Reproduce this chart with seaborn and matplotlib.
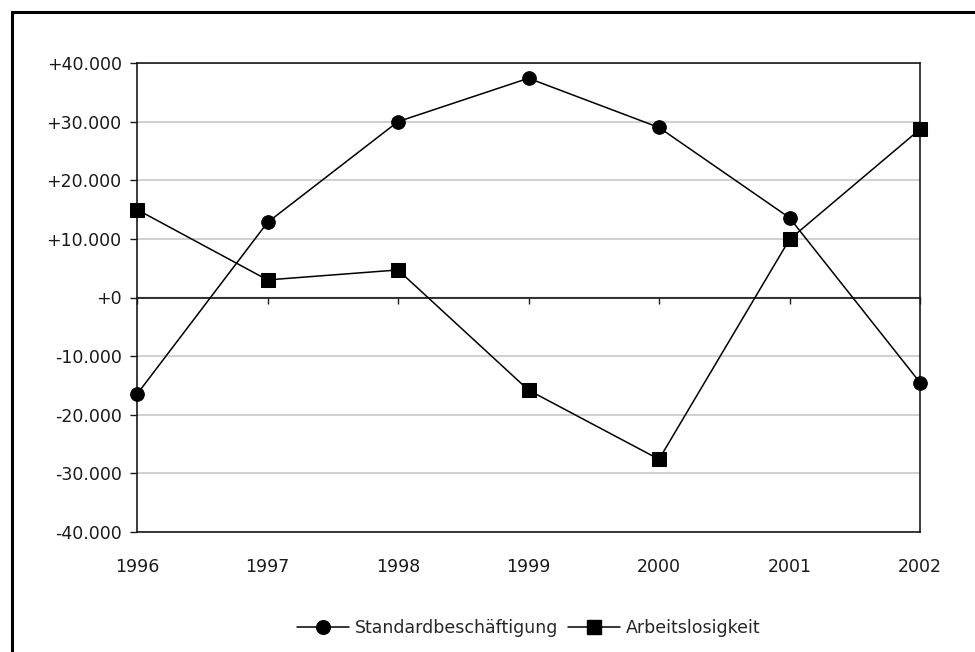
import seaborn as sns
import matplotlib.pyplot as plt
import pandas as pd
from matplotlib.ticker import FuncFormatter
from matplotlib.lines import Line2D
from matplotlib.patches import Rectangle

# Data
years = [1996, 1997, 1998, 1999, 2000, 2001, 2002]
standard = [-16500, 12800, 30000, 37400, 29000, 13600, -14500]
arbeitslos = [15000, 3000, 4700, -15800, -27600, 9900, 28700]
series_names = ["Standardbeschäftigung", "Arbeitslosigkeit"]

df = pd.concat([
    pd.DataFrame({"Jahr": years, "Wert": standard, "Reihe": series_names[0]}),
    pd.DataFrame({"Jahr": years, "Wert": arbeitslos, "Reihe": series_names[1]}),
])

sns.set_style("white")
plt.rcParams["font.family"] = ["DejaVu Sans"]
plt.rcParams["font.size"] = 12.5

fig = plt.figure(figsize=(9.75, 6.52), dpi=100)
ax = fig.add_axes([137 / 975, 1 - 532 / 652, (920 - 137) / 975, (532 - 63) / 652])

# Gridlines
ax.set_ylim(-40000, 40000)
ax.set_xlim(years[0], years[-1])
ax.set_yticks(range(-40000, 40001, 10000))
ax.yaxis.grid(True, color="#c4c4c4", lw=1.1)
ax.set_axisbelow(True)

sns.lineplot(
    data=df, x="Jahr", y="Wert", style="Reihe", markers=["o", "s"],
    dashes=False, color="black", markersize=9.8, linewidth=1.1,
    markeredgecolor="black", errorbar=None, legend=False, ax=ax,
)
for ln in ax.lines:
    ln.set_clip_on(False)
    ln.set_zorder(5)

# Zero line
ax.axhline(0, color="#1a1a1a", lw=1.2, zorder=2)

# Frame of plot area
for side in ["left", "right", "top", "bottom"]:
    ax.spines[side].set_visible(True)
    ax.spines[side].set_color("#1a1a1a")
    ax.spines[side].set_linewidth(1.2)

ax.yaxis.set_major_formatter(
    FuncFormatter(lambda v, _: f"{v:+,.0f}".replace(",", "."))
)
ax.tick_params(axis="y", left=True, direction="out", length=5, width=1,
               pad=6, labelsize=12.5, colors="#1a1a1a")
ax.set_xticks(years)
ax.set_xticklabels([str(y) for y in years])
ax.tick_params(axis="x", bottom=True, length=0, pad=19, labelsize=12.5,
               colors="#1a1a1a")
ax.set_xlabel("")
ax.set_ylabel("")

# Category tick marks hanging below the zero line
zero_ax = ax.secondary_xaxis(0.5)
zero_ax.set_xticks(years)
zero_ax.set_xticklabels([])
zero_ax.tick_params(direction="in", length=5, width=1, colors="#1a1a1a")
zero_ax.spines["bottom"].set_visible(False)

# Legend
handles = [
    Line2D([], [], color="black", lw=1.1, marker="o", markersize=9.8),
    Line2D([], [], color="black", lw=1.1, marker="s", markersize=9.8),
]
fig.legend(handles, series_names, loc="center", ncol=2, frameon=False,
           bbox_to_anchor=(528.5 / 975, 1 - 628 / 652), handlelength=3.0,
           handletextpad=0.35, columnspacing=0.55, borderpad=0,
           fontsize=12.5)

# Outer chart border
fig.patches.append(Rectangle((12 / 975, -0.2), 1.2, 1.2 - 12 / 652,
                             transform=fig.transFigure, fill=False,
                             lw=2.2, edgecolor="black", clip_on=False))

fig.savefig("out.png", dpi=100)
